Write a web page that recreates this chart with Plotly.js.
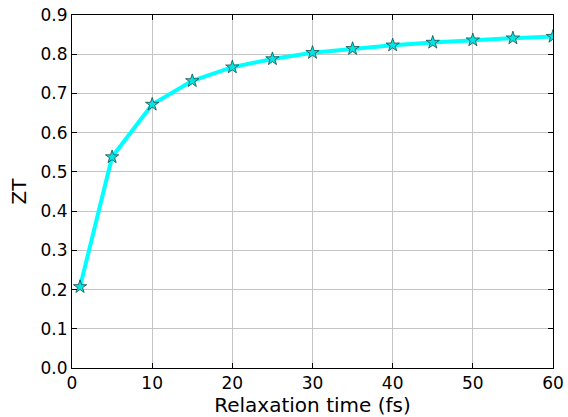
<!DOCTYPE html>
<html><head><meta charset="utf-8">
<script src="https://cdn.plot.ly/plotly-3.0.1.min.js"></script>
<style>html,body{margin:0;padding:0;background:#fff}#chart{width:568px;height:417px}</style>
</head><body><div id="chart"></div>
<script>
const relaxTime = [1, 5, 10, 15, 20, 25, 30, 35, 40, 45, 50, 55, 60];
const zt = [0.207, 0.538, 0.672, 0.732, 0.767, 0.788, 0.804, 0.814, 0.823, 0.830, 0.836, 0.841, 0.845];
const xTicks = [0, 10, 20, 30, 40, 50, 60];
const yTicks = [0, 0.1, 0.2, 0.3, 0.4, 0.5, 0.6, 0.7, 0.8, 0.9];

const font = 'DejaVu Sans, sans-serif';
const trace = {
  x: relaxTime, y: zt, type: 'scatter', mode: 'lines+markers',
  line: {color: '#00ffff', width: 4},
  marker: {symbol: 'star', size: 10, color: '#00e5e5', line: {color: '#1a4a4a', width: 0.8}}
};
const axisCommon = {
  showline: true, linecolor: '#000', linewidth: 1, mirror: 'ticks',
  ticks: 'inside', ticklen: 5, tickcolor: '#000',
  showgrid: true, gridcolor: '#c4c4c4', gridwidth: 1, zeroline: false,
  tickfont: {family: font, size: 17, color: '#000'}
};
const layout = {
  width: 568, height: 417,
  margin: {l: 72, r: 15, t: 15, b: 49},
  paper_bgcolor: '#fff', plot_bgcolor: '#fff',
  showlegend: false,
  xaxis: Object.assign({}, axisCommon, {
    range: [0, 60], tickvals: xTicks, ticktext: xTicks.map(String),
    title: {text: 'Relaxation time (fs)', font: {family: font, size: 20, color: '#000'}, standoff: 2}
  }),
  yaxis: Object.assign({}, axisCommon, {
    range: [0, 0.9], tickvals: yTicks, ticktext: yTicks.map(v => v.toFixed(1)),
    title: {text: 'ZT', font: {family: font, size: 20, color: '#000'}, standoff: 8}
  })
};
Plotly.newPlot('chart', [trace], layout, {displayModeBar: false, staticPlot: true});
</script></body></html>
